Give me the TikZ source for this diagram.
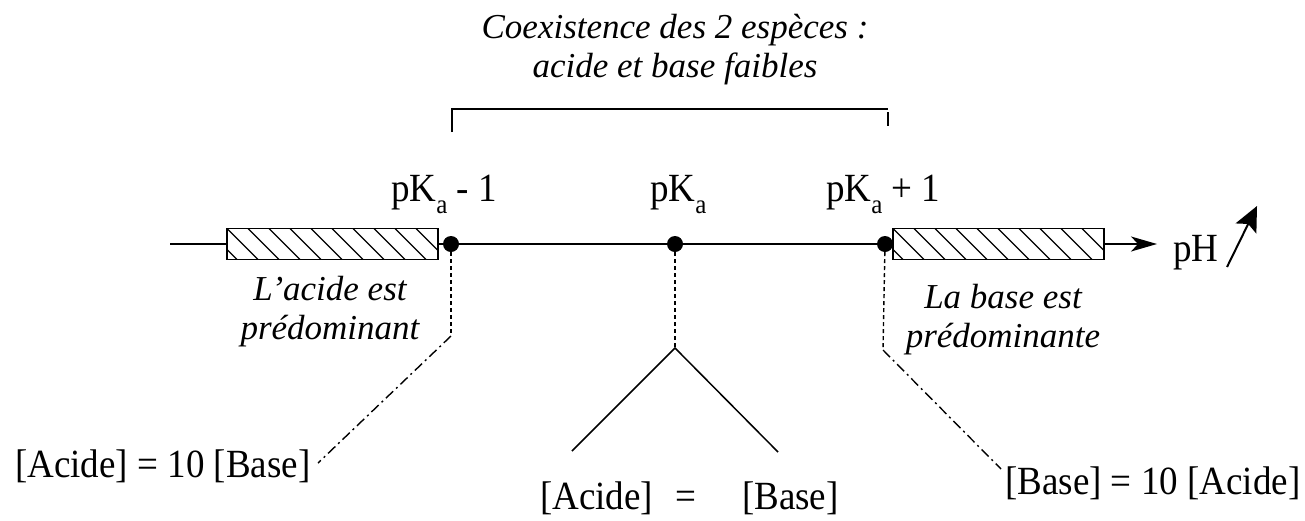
\documentclass[tikz,border=0pt]{standalone}
\usepackage{fontspec}
\setmainfont{Liberation Serif}
\newfontfamily\rmtall{Liberation Serif}[FakeStretch=0.925]
\usetikzlibrary{arrows.meta}
\newcommand{\pKa}{pK\raisebox{-0.3em}{\fontsize{27}{27}\selectfont a}}
\begin{document}
\begin{tikzpicture}[x=1pt,y=-1pt,
  lbl/.style={font=\rmtall\fontsize{40}{46}\selectfont, inner sep=0, anchor=base west},
  itl/.style={font=\fontsize{35}{39}\selectfont\itshape, align=center, inner sep=0},
  dotnode/.style={circle, fill, inner sep=0, minimum size=16pt},
  hatchbox/.style={draw, line width=1.4pt, minimum width=211pt, minimum height=31pt, inner sep=0,
    path picture={\foreach \i in {-2,...,11}{\draw[line width=1.2pt]
      ([xshift=\i*21pt]path picture bounding box.north west) -- ++(31pt,-31pt);}}},
  axis/.style={line width=1.6pt},
  fine/.style={line width=1.4pt, dash pattern=on 4pt off 3pt},
  dashdot/.style={line width=1.4pt, dash pattern=on 10pt off 4pt on 2pt off 4pt},
  solidline/.style={line width=1.5pt}
]
\useasboundingbox (0,0) rectangle (1305,520);

% title
\node[itl] (title) at (675,50) {Coexistence des 2 espèces :\\acide et base faibles};
% bracket
\draw[solidline] (452,132) -- (452,109) -- (888,109);
\draw[solidline] (888,112) -- (888,126);

% axis elements
\coordinate (start) at (170,244);
\node[hatchbox] (hbL) at (332.5,244) {};
\node[hatchbox] (hbR) at (998.5,244) {};
\node[dotnode] (d1) at (451,244) {};
\node[dotnode] (d2) at (675,244) {};
\node[dotnode] (d3) at (885,244) {};
\node[lbl] (pH) at (1173,261) {pH};

\draw[axis] (start) -- (hbL.west);
\draw[axis] (hbL.east) -- (d1) -- (d2) -- (d3) -- (hbR.west);
\draw[axis, -{Stealth[length=26pt, width=15pt, inset=7pt]}, shorten >=16pt] (hbR.east) -- (hbR.east -| pH.west);

\coordinate (upS) at (1227,267);
\coordinate (upE) at (1257,206);
\draw[line width=2pt, -{Stealth[length=25pt, width=23pt, inset=5pt]}] (upS) -- (upE);

% pKa labels
\node[lbl] (l1) at (391,201) {\pKa{} - 1};
\node[lbl] (l2) at (650,201) {\pKa};
\node[lbl] (l3) at (826,201) {\pKa{} + 1};

% italic labels
\node[itl] (acp) at (330,312) {L’acide est\\prédominant};
\node[itl] (bap) at (1003,320) {La base est\\prédominante};

% bottom labels
\node[lbl] (eqL) at (15,477) {[Acide] = 10 [Base]};
\node[lbl] (eqR) at (1005,494) {[Base] = 10 [Acide]};
\node[lbl] (eqM) at (540,509) {[Acide]\hspace{22pt}=\hspace{46pt}[Base]};

% leader lines
\coordinate (c1) at (451,336);
\coordinate (e1) at (318,463);
\draw[fine] (d1) -- (c1);
\draw[dashdot] (c1) -- (e1);

\coordinate (c3) at (883,350);
\coordinate (e3) at (1001,469);
\draw[fine] (d3) -- (c3);
\draw[dashdot] (c3) -- (e3);

\coordinate (apex) at (675,348);
\coordinate (vl) at (572,451);
\coordinate (vr) at (778,452);
\draw[fine] (d2) -- (apex);
\draw[solidline] (vl) -- (apex) -- (vr);
\end{tikzpicture}
\end{document}
